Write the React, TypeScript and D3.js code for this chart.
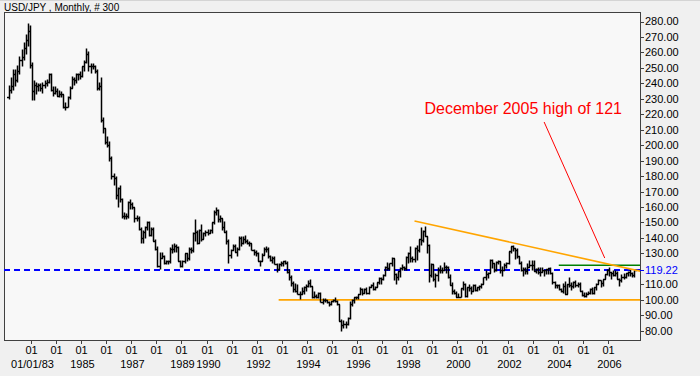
import React from "react";
import * as d3 from "d3";

// Monthly USD/JPY bars, Jan 1982 .. Dec 2006 (300 bars)
const startYear = 1982;
const firstOpen = 231;

const highs = [
  239, 244, 249, 249, 252, 258, 262, 267, 272, 279, 278, 254,
  242, 241, 240, 240, 241, 242, 243, 247, 247, 238, 238, 237,
  236, 235, 233, 228, 232, 238, 245, 244, 247, 247, 248, 251,
  255, 263, 261, 253, 253, 252, 249, 241, 244, 218, 211, 206,
  203, 193, 182, 180, 173, 174, 166, 157, 156, 164, 165, 163,
  160, 155, 154, 147, 145, 148, 151, 151, 147, 147, 139, 135,
  131, 131, 129, 126, 126, 134, 136, 137, 136, 135, 126, 126,
  130, 130, 134, 134, 144, 152, 145, 146, 149, 144, 145, 146,
  146, 150, 158, 160, 159, 155, 153, 151, 145, 139, 133, 136,
  136, 134, 141, 141, 141, 142, 139, 138, 137, 133, 132, 131,
  126, 130, 134, 135, 134, 129, 128, 128, 124, 124, 125, 125,
  126, 125, 120, 116, 112, 111, 110, 106, 108, 109, 110, 113,
  113.5, 109, 106, 104, 105, 105, 101, 101, 100, 99.5, 99.5, 100.7,
  101.5, 100, 97, 87.5, 87, 86, 89, 99.5, 100.5, 101.5, 102.5, 103.5,
  108, 107.5, 107.5, 108, 109, 110, 111.5, 109, 111.5, 114.5, 114.5, 116.5,
  122, 124.5, 124, 127.5, 127, 117, 118.5, 121, 123, 122, 128, 131,
  135, 128.5, 134, 135.5, 139, 147, 145, 147.7, 141.5, 136, 124, 123,
  117, 121, 122.5, 121, 124.5, 122.5, 122, 116.5, 111.5, 107, 106, 104.5,
  107.5, 112, 111, 108.5, 110, 109, 110, 110.5, 108.5, 109.5, 111, 114.5,
  119, 118, 126.5, 126.5, 124, 125, 126, 125, 122, 123.5, 124.5, 131.5,
  135, 135.2, 133.5, 133.5, 128.5, 125, 121, 121.5, 124, 126, 125.5, 125.5,
  120.5, 121, 121.5, 121, 119.5, 120, 120.5, 121.5, 118, 112, 110, 110,
  107.5, 111, 112, 110.5, 114.5, 111.5, 112, 112.5, 111.5, 111.5, 106.5, 105,
  105, 106, 107.5, 108, 108.5, 111, 113.5, 113, 113.5, 116.5, 120, 121.4,
  118, 119, 119, 118.5, 114, 116.5, 117.5, 117.5, 118.5, 119.9, 118, 119.5,
];

const lows = [
  230, 234, 236, 238, 241, 246, 251, 255, 259, 264, 250, 229,
  229, 233, 235, 235, 234, 237, 238, 240, 235, 232, 233, 232,
  231, 231, 224, 223, 225, 230, 237, 239, 240, 242, 243, 244,
  248, 253, 248, 247, 249, 247, 236, 236, 215, 208, 201, 199,
  190, 178, 174, 165, 160, 163, 153, 152, 152, 153, 159, 159,
  150, 151, 145, 137, 137, 140, 145, 141, 141, 138, 132, 121,
  120, 127, 123, 123, 123, 124, 130, 131, 131, 125, 121, 121,
  124, 125, 126, 130, 131, 138, 136, 137, 138, 139, 141, 142,
  143, 143, 149, 155, 150, 150, 145, 144, 136, 124, 127, 132,
  131, 128, 132, 135, 136, 137, 136, 135, 132, 129, 128, 125,
  122, 125, 129, 131, 127, 125, 124, 123, 118, 119, 122, 122,
  123, 117, 113, 109, 105, 105, 104, 100.5, 104, 104, 106, 108,
  108, 101, 101, 101, 101, 98.5, 97.5, 98.5, 98, 96, 96.5, 98.5,
  98.5, 96.5, 86.5, 79.8, 81.5, 82, 84, 87.5, 96, 98, 100.5, 100.5,
  103.5, 103, 104.5, 104, 104, 108, 106.5, 106.5, 108, 110.5, 110.5, 112.5,
  115.5, 119.5, 119.5, 122, 112.5, 110.5, 112.5, 115, 119, 119, 119.5, 124,
  124.5, 124.5, 124.5, 126, 131, 135.5, 137.5, 141, 130.5, 111.5, 115, 112,
  108.5, 112, 117.5, 117, 119, 117.5, 114, 109.5, 103.5, 103.5, 101.5, 101.5,
  101.5, 106.5, 102, 102, 105.5, 104, 105.5, 106, 105.5, 106.5, 107.5, 110,
  113, 114, 117, 120.5, 118, 118.5, 123, 117.5, 115.5, 119.5, 120.5, 123,
  130.5, 131.5, 126.5, 127, 123, 118.5, 115.5, 116.5, 116.5, 121, 119.5, 118.5,
  117, 116.5, 115.5, 118, 115.5, 116.5, 116.5, 116.5, 110.5, 107.5, 107.5, 106.5,
  105, 104.5, 103.5, 103.5, 108.5, 106.5, 107.5, 108.5, 108.5, 105.5, 102.5, 102,
  101.7, 103.5, 103.5, 104, 104, 106.5, 110, 108.5, 109, 113.5, 116, 115.5,
  113.5, 115.5, 115.5, 113.5, 108.9, 111.5, 113.5, 114, 115.5, 115.5, 115, 114.5,
];

const closes = [
  236, 238, 246, 242, 248, 255, 257, 263, 268, 274, 252, 235,
  239, 238, 239, 237, 239, 240, 241, 246, 236, 234, 235, 232,
  233, 233, 225, 225, 231, 237, 243, 242, 246, 246, 245, 251,
  254, 259, 251, 251, 251, 248, 237, 238, 216, 211, 202, 200,
  192, 180, 179, 168, 172, 165, 154, 154, 154, 163, 162, 160,
  153, 153, 146, 140, 144, 147, 150, 142, 146, 138, 133, 122,
  127, 128, 124, 125, 125, 133, 133, 135, 134, 125, 122, 125,
  130, 127, 133, 132, 143, 144, 137, 145, 139, 143, 144, 143,
  145, 150, 157, 158, 152, 153, 147, 144, 138, 129, 132, 135,
  131, 133, 140, 137, 139, 138, 137, 137, 132, 131, 130, 125,
  125, 129, 133, 133, 128, 126, 127, 123, 120, 123, 124, 125,
  124, 118, 115, 111, 107, 106, 104, 104, 106, 108, 109, 111,
  109, 102, 102.5, 102, 104.5, 98.5, 100, 100, 98.5, 97, 98.9, 99.7,
  99.2, 97, 86.5, 84, 84.5, 84.5, 88, 97.5, 99.7, 101.7, 101.5, 103.5,
  107, 104.5, 107, 104.5, 108.5, 109.5, 107, 108.5, 111.4, 114, 113.5, 116,
  121.5, 120.5, 124, 127, 116.5, 114.5, 118.5, 120.7, 121, 120.5, 127.5, 130.5,
  127, 126.5, 133.5, 132.5, 139, 138.5, 144.5, 141.5, 135.5, 116, 123, 113.5,
  116, 119.5, 119, 119.5, 121.5, 121, 114.5, 109.5, 106, 104.5, 102, 102,
  107.5, 110, 102.5, 108, 107.5, 106, 109.5, 106.5, 108, 109, 110.5, 114.5,
  116.5, 117.5, 125.5, 123.5, 119, 124.5, 125, 119, 119.5, 122.5, 123.5, 131.5,
  134.5, 133.5, 132.5, 128, 124, 119.5, 120, 118.5, 121.5, 122.5, 122.5, 118.5,
  120, 118, 118, 119, 119.5, 120, 120.5, 117, 111.5, 109.5, 109.5, 107,
  105.5, 109, 104, 110.5, 109.5, 109, 111.5, 109.5, 110, 106, 103, 102.5,
  103.5, 104.5, 107, 104.5, 108.5, 110.5, 112.5, 111, 113.5, 116.5, 119.5, 117.8,
  117.5, 116, 117.5, 113.5, 112.5, 114.5, 114.5, 117.5, 118, 117, 115.8, 119.22,
];

// Axis labels
const priceTicks = d3.range(80, 281, 10);
const lastPrice = 119.22;
const xTickYears = d3.range(1983, 2007);
const yearLabels: Record<number, string> = {
  1983: "01/01/83", 1985: "1985", 1987: "1987", 1989: "1989", 1990: "1990",
  1992: "1992", 1994: "1994", 1996: "1996", 1998: "1998", 2000: "2000",
  2002: "2002", 2004: "2004", 2006: "2006",
};

// Annotations (bar index, price)
const trendLine = [[194, 151], [302, 118.5]];
const supportLine = { from: 129, value: 100 };
const resistanceLine = { from: 263, value: 122.3 };
const noteText = "December 2005 high of 121";
const notePos = [246, 220];
const arrowLine = [[256, 215], [285, 127]];

const W = 700, H = 376;
const pl = 4, pt = 12, pr = 640, pb = 340;
const FONT = "'Liberation Sans', Arial, sans-serif";

export default function App() {
  const x = d3.scaleLinear().domain([0, 299]).range([9, 634]);
  const y = d3.scaleLinear().domain([80, 280]).range([330.7, 21.5]);
  const cx = (i: number) => Math.round(x(i)) + 0.5;
  const cy = (v: number) => Math.round(y(v)) + 0.5;

  const bars = highs.map((h, i) => {
    const o = i === 0 ? firstOpen : closes[i - 1];
    return { i, o, h, l: lows[i], c: closes[i] };
  });

  const barPath = bars
    .map((b) => {
      const px = cx(b.i);
      return `M${px},${cy(b.h)}V${cy(b.l)}M${px - 2.5},${cy(b.o)}H${px}M${px},${cy(b.c)}H${px + 2.5}`;
    })
    .join("");

  const lineGen = d3.line<number[]>().x((d) => x(d[0])).y((d) => y(d[1]));

  return (
    <svg width={W} height={H} style={{ position: "absolute", left: 0, top: 0, display: "block" }} fontFamily={FONT}>
      <rect x={0} y={0} width={W} height={H} fill="#f0f0f0" />
      <rect x={0} y={0} width={W} height={1} fill="#d4d4d4" />
      <text x={4} y={10.5} fontSize={10} fill="#000">USD/JPY , Monthly, # 300</text>
      <defs>
        <clipPath id="plotclip">
          <rect x={pl} y={pt} width={pr - pl} height={pb - pt} />
        </clipPath>
      </defs>
      <rect x={pl + 0.5} y={pt + 0.5} width={pr - pl} height={pb - pt} fill="#f8f8f8" stroke="#404040" strokeWidth={1} />

      <g clipPath="url(#plotclip)">
        <line x1={x(supportLine.from)} x2={pr} y1={y(supportLine.value)} y2={y(supportLine.value)} stroke="#ffa500" strokeWidth={1.8} />
        <line x1={pl} x2={pr} y1={y(lastPrice)} y2={y(lastPrice)} stroke="#0000ff" strokeWidth={2} strokeDasharray="6,4" />
        <path d={barPath} stroke="#000" strokeWidth={1.5} fill="none" />
        <line x1={x(resistanceLine.from)} x2={pr} y1={y(resistanceLine.value)} y2={y(resistanceLine.value)} stroke="#008000" strokeWidth={1.6} />
        <path d={lineGen(trendLine) || ""} stroke="#ffa500" strokeWidth={1.6} fill="none" />
        <path d={lineGen(arrowLine) || ""} stroke="#ff0000" strokeWidth={1} fill="none" />
        <text x={x(notePos[0])} y={y(notePos[1])} fontSize={16} fill="#ff0000" textAnchor="middle">{noteText}</text>
      </g>

      {priceTicks.filter((v) => v !== 120).map((v) => (
        <g key={v}>
          <line x1={pr} x2={pr + 4} y1={cy(v)} y2={cy(v)} stroke="#404040" shapeRendering="crispEdges" />
          <text x={pr + 5} y={y(v)} dy="0.36em" fontSize={11} fill="#000">{v.toFixed(2)}</text>
        </g>
      ))}
      <line x1={pr} x2={pr + 4} y1={cy(lastPrice)} y2={cy(lastPrice)} stroke="#0000ff" shapeRendering="crispEdges" />
      <text x={pr + 5} y={y(lastPrice)} dy="0.36em" fontSize={11} fill="#0000ff">{lastPrice.toFixed(2)}</text>

      {xTickYears.map((yr) => {
        const idx = (yr - startYear) * 12 - 1.5;
        const tx = Math.round(x(idx)) + 0.5;
        return (
          <g key={yr}>
            <line x1={tx} x2={tx} y1={pb + 1} y2={pb + 4} stroke="#404040" shapeRendering="crispEdges" />
            <text x={tx} y={353.5} fontSize={11} textAnchor="middle" fill="#000">01</text>
            {yearLabels[yr] && (
              <text x={tx + 1} y={367.5} fontSize={11} textAnchor="middle" fill="#000">{yearLabels[yr]}</text>
            )}
          </g>
        );
      })}
    </svg>
  );
}
